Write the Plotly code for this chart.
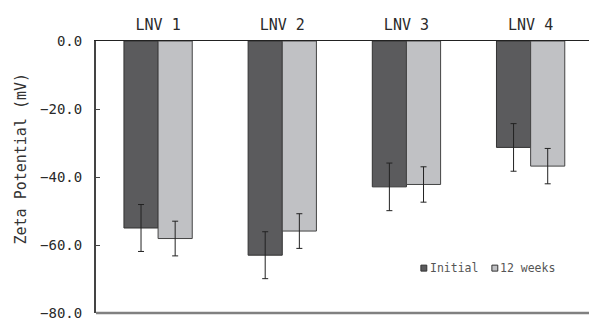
import plotly.graph_objects as go

# Zeta potential of the four LNV formulations, initially and after 12 weeks
categories = ["LNV 1", "LNV 2", "LNV 3", "LNV 4"]
initial = [-55.0, -63.0, -42.9, -31.3]
initial_err = [6.9, 6.9, 7.0, 7.0]
week12 = [-58.1, -55.9, -42.2, -36.8]
week12_err = [5.1, 5.1, 5.2, 5.2]
y_ticks = [0, -20, -40, -60, -80]
series_names = ["Initial", "12 weeks"]

FONT = "DejaVu Sans Mono"
DARK = "#5b5b5d"
LIGHT = "#c0c1c4"
TEXT = "#2a2a2a"

fig = go.Figure()
fig.add_trace(go.Bar(
    x=categories, y=initial, name=series_names[0],
    marker=dict(color=DARK, line=dict(color="#333333", width=1)),
    error_y=dict(type="data", array=initial_err, color="#222222", thickness=1, width=3),
))
fig.add_trace(go.Bar(
    x=categories, y=week12, name=series_names[1],
    marker=dict(color=LIGHT, line=dict(color="#444444", width=1)),
    error_y=dict(type="data", array=week12_err, color="#222222", thickness=1, width=3),
))

# compact legend: small outlined swatch followed closely by its label
legend_y = 0.165
swatch_h = 0.011
for (x0, x1, tx), name, col in zip(
        [(0.659, 0.671, 0.674), (0.803, 0.815, 0.816)], series_names, [DARK, LIGHT]):
    fig.add_shape(type="rect", xref="paper", yref="paper",
                  x0=x0, x1=x1, y0=legend_y - swatch_h, y1=legend_y + swatch_h,
                  fillcolor=col, line=dict(color="#333333", width=1))
    fig.add_annotation(x=tx, y=legend_y, xref="paper", yref="paper",
                       text=name, showarrow=False, xanchor="left", yanchor="middle",
                       font=dict(family=FONT, size=11.5, color="#555555"))

# y-axis title
fig.add_annotation(x=0, y=0.568, xref="paper", yref="paper", xshift=-75,
                   text="Zeta Potential (mV)", textangle=-90, showarrow=False,
                   xanchor="center", yanchor="middle",
                   font=dict(family=FONT, size=15, color="#333333"))

# bottom frame line of the plot area
fig.add_shape(type="line", xref="paper", yref="paper", x0=0, x1=1, y0=0, y1=0,
              line=dict(color="#808080", width=2.5), layer="above")

fig.update_layout(
    width=589, height=320,
    margin=dict(l=96, r=0, t=41, b=7),
    paper_bgcolor="white", plot_bgcolor="white",
    barmode="group", bargap=0.45, bargroupgap=0,
    showlegend=False,
    font=dict(family=FONT, size=14, color=TEXT),
    xaxis=dict(
        side="top", range=[-0.5, 3.47], showline=True, linecolor="#222222",
        linewidth=1.2, ticks="", showgrid=False, zeroline=False,
        ticklabelstandoff=4,
        tickfont=dict(family=FONT, size=15, color=TEXT),
    ),
    yaxis=dict(
        range=[-80, 0], tickvals=y_ticks, tickformat=".1f",
        showline=True, linecolor="#444444", linewidth=2,
        ticks="inside", ticklen=4, tickcolor="#444444",
        ticklabelstandoff=9, ticklabeloverflow="allow",
        showgrid=False, zeroline=False,
        tickfont=dict(family=FONT, size=14, color=TEXT),
    ),
)

fig.write_html("out.html")
